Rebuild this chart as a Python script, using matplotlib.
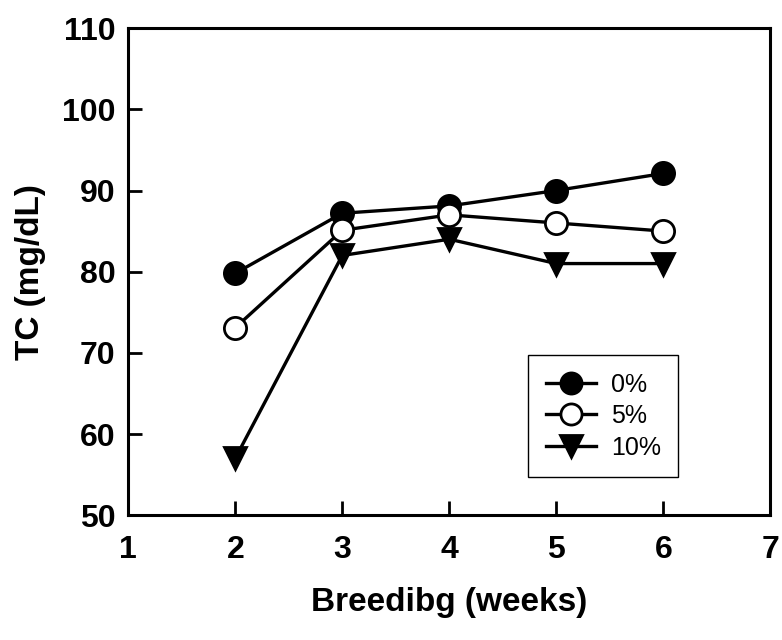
import matplotlib
matplotlib.use("Agg")
import matplotlib.pyplot as plt

# Total cholesterol by breeding week for each supplement level
weeks = [2, 3, 4, 5, 6]
tc_0 = [79.8, 87.2, 88.1, 90.0, 92.1]
tc_5 = [73.1, 85.1, 87.0, 86.0, 85.0]
tc_10 = [57.0, 82.0, 84.0, 81.0, 81.0]
series_labels = ['0%', '5%', '10%']

x_ticks = [1, 2, 3, 4, 5, 6, 7]
y_ticks = [50, 60, 70, 80, 90, 100, 110]

plt.rcParams["font.family"] = ["Liberation Sans", "DejaVu Sans"]

fig = plt.figure(figsize=(7.82, 6.4), dpi=100)
ax = fig.add_axes([0.164, 0.195, 0.821, 0.761])

line_kw = dict(color='black', linewidth=2.4, markersize=16, markeredgewidth=2.0,
               markeredgecolor='black', clip_on=False)
ax.plot(weeks, tc_0, marker='o', markerfacecolor='black', label=series_labels[0], **line_kw)
ax.plot(weeks, tc_5, marker='o', markerfacecolor='white', label=series_labels[1], **line_kw)
ax.plot(weeks, tc_10, marker='v', markerfacecolor='black', label=series_labels[2], **line_kw)

ax.set_xlim(1, 7)
ax.set_ylim(50, 110)
ax.set_xticks(x_ticks)
ax.set_yticks(y_ticks)
ax.tick_params(direction='in', length=10, width=2.0, labelsize=23)
ax.tick_params(axis='y', pad=9)
ax.tick_params(axis='x', pad=14)
for lab in ax.get_xticklabels() + ax.get_yticklabels():
    lab.set_fontweight('bold')
for side in ['left', 'bottom', 'top', 'right']:
    ax.spines[side].set_linewidth(2.2)

ax.set_xlabel('Breedibg (weeks)', fontsize=24, fontweight='bold', labelpad=16)
ax.set_ylabel('TC (mg/dL)', fontsize=24, fontweight='bold', labelpad=12)

leg = ax.legend(loc='lower right', bbox_to_anchor=(0.857, 0.078), fontsize=18,
                frameon=True, fancybox=False, edgecolor='black', framealpha=1,
                handlelength=2.0, handletextpad=0.6, labelspacing=0.3,
                borderpad=0.7, borderaxespad=0, markerscale=0.95)
leg.get_frame().set_linewidth(1.0)

fig.savefig('out.png', dpi=100)
